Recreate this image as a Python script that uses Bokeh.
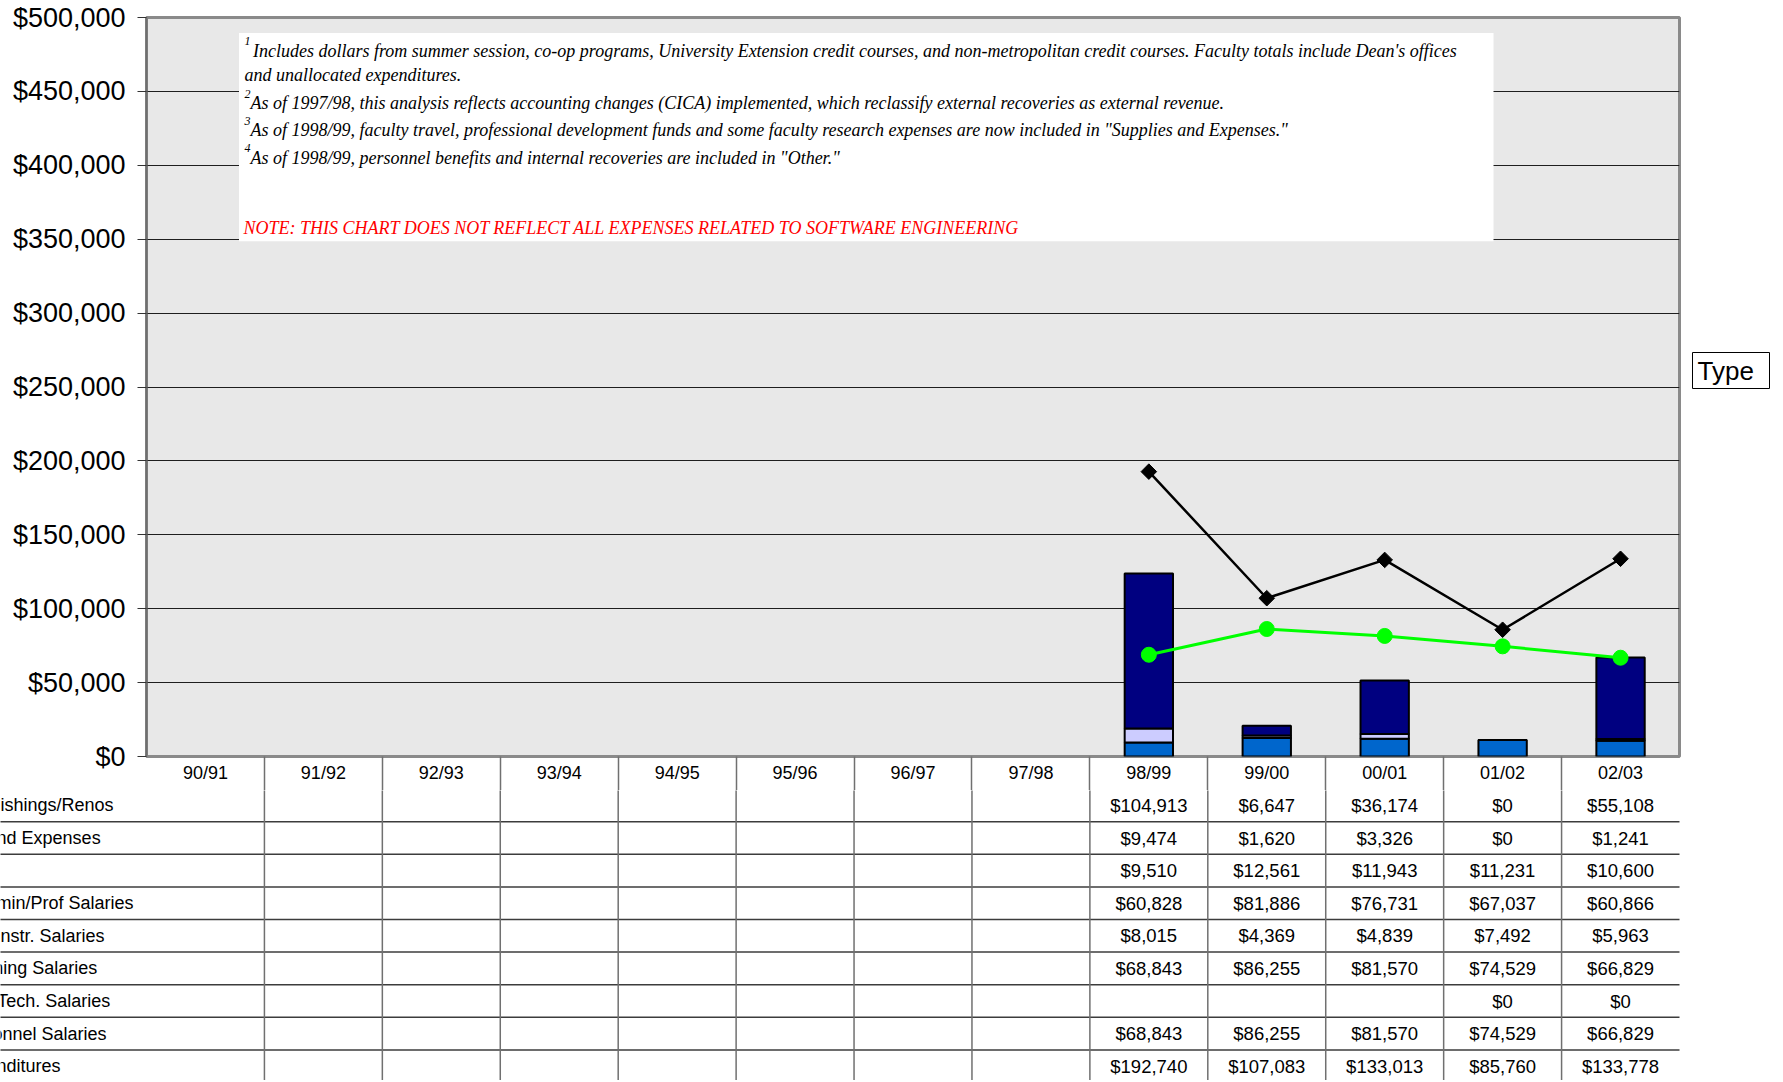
import numpy as np
from bokeh.plotting import figure
from bokeh.models import (FactorRange, Range1d, ColumnDataSource, SingleIntervalTicker,
                          NumeralTickFormatter, BoxAnnotation, Label, LinearAxis, FixedTicker)
from bokeh.layouts import row
from bokeh.embed import file_html
from bokeh.resources import INLINE
from bokeh.core.properties import value

# ---------------- data ----------------
years = ["90/91", "91/92", "92/93", "93/94", "94/95", "95/96", "96/97",
         "97/98", "98/99", "99/00", "00/01", "01/02", "02/03"]

furnishings = [None] * 8 + [104913, 6647, 36174, 0, 55108]
supplies = [None] * 8 + [9474, 1620, 3326, 0, 1241]
other = [None] * 8 + [9510, 12561, 11943, 11231, 10600]
admin_prof = [None] * 8 + [60828, 81886, 76731, 67037, 60866]
sessional = [None] * 8 + [8015, 4369, 4839, 7492, 5963]
teaching = [None] * 8 + [68843, 86255, 81570, 74529, 66829]
tech = [None] * 8 + [None, None, None, 0, 0]
personnel = [None] * 8 + [68843, 86255, 81570, 74529, 66829]
total = [None] * 8 + [192740, 107083, 133013, 85760, 133778]

row_labels = ["Equip/Furnishings/Renos", "Supplies and Expenses", "Other",
              "Faculty Admin/Prof Salaries", "Sessional Instr. Salaries",
              "Total Teaching Salaries", "Support & Tech. Salaries",
              "Total Personnel Salaries", "Total Expenditures"]
rows = [furnishings, supplies, other, admin_prof, sessional, teaching, tech, personnel, total]

notes = [
    ("1", "Includes dollars from summer session, co-op programs, University Extension credit courses, and non-metropolitan credit courses.  Faculty totals include Dean's offices"),
    (None, "and unallocated expenditures."),
    ("2", "As of 1997/98, this analysis reflects accounting changes (CICA) implemented, which reclassify external recoveries as external revenue."),
    ("3", "As of 1998/99, faculty travel, professional development funds and some faculty research expenses are now included in \"Supplies and Expenses.\""),
    ("4", "As of 1998/99, personnel benefits and internal recoveries are included in \"Other.\""),
]
note_red = "NOTE: THIS CHART DOES NOT REFLECT ALL EXPENSES RELATED TO SOFTWARE ENGINEERING"
field_button = "Type"

# ---------------- layout constants (page pixels) ----------------
W = 1783
FR_L, FR_R, FR_T, FR_B = 146, 1679, 17, 756
P_W = FR_R + 2
HEAD = 34                    # header strip under the chart (category labels)
TOP_H = FR_B + HEAD
TOTAL_H = 1080
ROW_H = 32.6
YMAX = 500000
UNIT = (FR_R - FR_L) / len(years)

SANS = "Liberation Sans"
SERIF = "Liberation Serif"


def px_x(px):
    return (px - FR_L) / UNIT


def px_y(py):
    return YMAX * (FR_B - py) / (FR_B - FR_T)


# ---------------- main chart ----------------
p = figure(width=P_W, height=TOP_H, x_range=FactorRange(*years), y_range=Range1d(0, YMAX),
           output_backend="svg", toolbar_location=None, x_axis_location=None,
           min_border_left=FR_L, min_border_right=P_W - FR_R,
           min_border_top=FR_T, min_border_bottom=HEAD)
p.background_fill_color = "#E8E8E8"
p.border_fill_color = "white"
p.outline_line_color = "#8A8A8A"
p.outline_line_width = 3
p.xgrid.visible = False
p.ygrid.grid_line_color = "#1E1E1E"
p.ygrid.grid_line_width = 1
p.yaxis.ticker = SingleIntervalTicker(interval=50000)
p.yaxis.formatter = NumeralTickFormatter(format="$0,0")
p.yaxis.major_label_text_font = SANS
p.yaxis.major_label_text_font_size = "27px"
p.yaxis.major_label_text_color = "black"
p.yaxis.major_tick_out = 9
p.yaxis.major_tick_in = 0
p.yaxis.minor_tick_out = 0
p.yaxis.minor_tick_in = 0
p.yaxis.major_tick_line_color = "#333333"
p.yaxis.axis_line_color = "#6E6E6E"
p.yaxis.axis_line_width = 2
p.yaxis.major_label_standoff = 12

# category header row: labels at category centres, table column rules as minor ticks
centres = [i + 0.5 for i in range(len(years))]
bounds = list(range(1, len(years)))
xax = LinearAxis(ticker=FixedTicker(ticks=centres, minor_ticks=bounds),
                 major_label_overrides={c: y for c, y in zip(centres, years)},
                 major_label_text_font=SANS, major_label_text_font_size="18px",
                 major_label_text_color="black", major_label_standoff=-28,
                 major_tick_out=0, major_tick_in=0,
                 minor_tick_out=HEAD, minor_tick_in=0,
                 minor_tick_line_color="#707070", minor_tick_line_width=1.5,
                 axis_line_color=None)
p.add_layout(xax, "below")

idx = [i for i, v in enumerate(total) if v is not None]
src = ColumnDataSource(dict(
    year=[years[i] for i in idx],
    other=[other[i] for i in idx],
    supplies=[supplies[i] for i in idx],
    furnishings=[furnishings[i] for i in idx],
    teaching=[teaching[i] for i in idx],
    total=[total[i] for i in idx],
))

p.vbar_stack(["other", "supplies", "furnishings"], x="year", width=0.41, source=src,
             fill_color=["#0066CC", "#CCCCFF", "#000080"], line_color="black", line_width=2)

p.line(x="year", y="teaching", source=src, line_color="#00FF00", line_width=3)
p.scatter(x="year", y="teaching", source=src, marker="circle", size=15,
          fill_color="#00FF00", line_color="#00FF00")
p.line(x="year", y="total", source=src, line_color="black", line_width=2.5)
p.scatter(x="year", y="total", source=src, marker="square", angle=np.pi / 4, size=11,
          fill_color="black", line_color="black")

# note box
p.add_layout(BoxAnnotation(left=px_x(238.5), right=px_x(1493), top=px_y(32.5), bottom=px_y(240.7),
                           fill_color="white", fill_alpha=1, line_color=None, level="annotation"))

note_base = [50, 74.5, 102.5, 129.5, 157]
for (sup, txt), base in zip(notes, note_base):
    if sup is not None:
        p.add_layout(Label(x=px_x(244), y=px_y(base - 9.5), text=sup, text_font=SERIF,
                           text_font_style="italic", text_font_size="12px", text_color="black",
                           text_baseline="alphabetic", text_align="left"))
        tx0 = 252.5 if sup == "1" else 250
    else:
        tx0 = 244
    p.add_layout(Label(x=px_x(tx0), y=px_y(base), text=txt, text_font=SERIF,
                       text_font_style="italic", text_font_size="18px", text_color="black",
                       text_baseline="alphabetic", text_align="left"))
p.add_layout(Label(x=px_x(243), y=px_y(227.5), text=note_red, text_font=SERIF,
                   text_font_style="italic", text_font_size="18px", text_color="#FF0000",
                   text_baseline="alphabetic", text_align="left"))

# ---------------- "Type" field button, in a narrow strip right of the chart ----------------
side = figure(width=W - P_W, height=TOP_H, x_range=Range1d(P_W, W), y_range=Range1d(FR_B, FR_T),
              x_axis_location=None, y_axis_location=None, output_backend="svg",
              toolbar_location=None, min_border_left=0, min_border_right=0,
              min_border_top=FR_T, min_border_bottom=HEAD)
side.outline_line_color = None
side.background_fill_color = "white"
side.border_fill_color = "white"
side.grid.visible = False
side.add_layout(BoxAnnotation(left=1692, right=1769, top=352, bottom=388, fill_color="white",
                              fill_alpha=1, line_color="black", line_alpha=1, line_width=1))
side.add_layout(Label(x=1697, y=370, text=field_button, text_font=SANS, text_font_size="26px",
                      text_color="black", text_baseline="middle", text_align="left"))

# ---------------- data table ----------------
TAB_H = TOTAL_H - TOP_H
t = figure(width=W, height=TAB_H, x_range=Range1d(px_x(0), px_x(W)),
           y_range=Range1d((TOTAL_H - FR_B) / ROW_H, HEAD / ROW_H),
           x_axis_location=None, y_axis_location=None,
           min_border=0, output_backend="svg", toolbar_location=None)
t.outline_line_color = None
t.background_fill_color = "white"
t.border_fill_color = "white"
t.grid.visible = False

n_rows = len(rows)
hy = np.arange(2, n_rows + 2)
t.segment(x0=[px_x(-20)] * len(hy), x1=[len(years)] * len(hy), y0=hy, y1=hy,
          line_color="#3C3C3C", line_width=1.5)
vx = np.arange(1, len(years))
t.segment(x0=vx, x1=vx, y0=[0] * len(vx), y1=[n_rows + 1] * len(vx),
          line_color="#707070", line_width=1.5)

tx, ty, tt = [], [], []
for r, vals in enumerate(rows):
    for i, v in enumerate(vals):
        if v is not None:
            tx.append(i + 0.5)
            ty.append(r + 1.5)
            tt.append(f"${v:,}")
t.text(x=tx, y=ty, text=tt, text_font=value(SANS), text_font_size="18.5px", text_color="black",
       text_align="center", text_baseline="middle")

t.text(x=[px_x(-88)] * n_rows, y=np.arange(n_rows) + 1.5, text=row_labels,
       text_font=value(SANS), text_font_size="18px", text_color="black",
       text_align="left", text_baseline="middle")

top = row(p, side, spacing=0)
open("out.html", "w").write(file_html([top, t], INLINE))
